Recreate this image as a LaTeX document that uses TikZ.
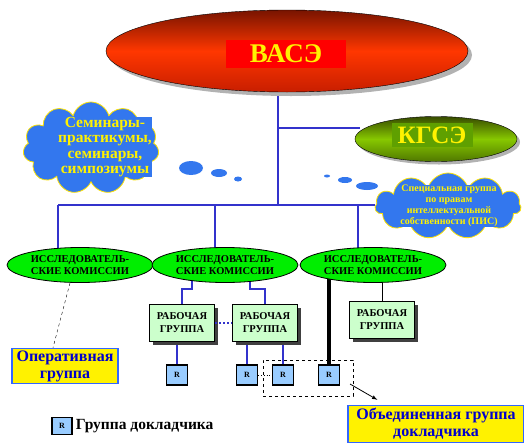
\documentclass[tikz,border=0pt]{standalone}
\usepackage{fontspec}
\setmainfont{Liberation Serif}
\usetikzlibrary{shapes.geometric}
\usetikzlibrary{shapes.symbols}
\usetikzlibrary{shadows}
\usetikzlibrary{arrows}
\usetikzlibrary{positioning}
\usetikzlibrary{backgrounds}
\definecolor{vasetop}{RGB}{120,20,0}
\definecolor{vasemid}{RGB}{255,55,0}
\definecolor{vasebot}{RGB}{200,30,0}
\definecolor{kgsetop}{RGB}{55,75,0}
\definecolor{kgsemid}{RGB}{135,200,0}
\definecolor{kgsebot}{RGB}{80,120,0}
\definecolor{kgsebox}{RGB}{95,160,0}
\definecolor{cloudblue}{RGB}{51,119,238}
\definecolor{komgreen}{RGB}{0,238,0}
\definecolor{wggreen}{RGB}{204,255,204}
\definecolor{rblue}{RGB}{153,204,255}
\definecolor{boxblue}{RGB}{51,102,255}
\definecolor{textblue}{RGB}{0,0,204}
\definecolor{lineblue}{RGB}{51,51,204}
\begin{document}
\begin{tikzpicture}[x=1pt,y=-1pt,font=\bfseries,every node/.style={align=center,inner sep=0pt},
  komissia/.style={ellipse,draw,thick,fill=komgreen,minimum width=146pt,minimum height=35pt,font=\fontsize{10.5}{11.5}\selectfont\bfseries},
  rabgr/.style={rectangle,draw,line width=1.5pt,fill=wggreen,minimum width=65pt,minimum height=37pt,drop shadow={shadow xshift=3pt,shadow yshift=-3pt,fill=black!75,opacity=1},font=\fontsize{10.5}{13}\selectfont\bfseries},
  dokl/.style={rectangle,draw,line width=1.5pt,fill=rblue,minimum width=21pt,minimum height=20pt,font=\fontsize{8}{8}\selectfont\bfseries},
  zheltbox/.style={rectangle,draw=boxblue,line width=1.5pt,fill=yellow,text=textblue,font=\fontsize{16}{17}\selectfont\bfseries},
  oblako/.style={cloud,cloud puffs=11,aspect=1.6,draw=yellow!85!orange,thick,fill=cloudblue},
  puzyr/.style={ellipse,fill=cloudblue},
  liniya/.style={lineblue,line width=1.2pt},
  wgliniya/.style={lineblue,line width=2pt}]
  \useasboundingbox (0,0) rectangle (524,442);

  \node (vase) at (287,51) [ellipse,draw,minimum width=362pt,minimum height=82pt,top color=vasetop,bottom color=vasebot,middle color=vasemid,drop shadow={shadow xshift=4pt,shadow yshift=-4pt,fill=gray!60,opacity=1}]{};
  \node (vasel) at (286,54) [fill=red,minimum width=120pt,minimum height=28pt,text=yellow,font=\fontsize{27}{27}\selectfont\bfseries]{ВАСЭ};
  \node (kgse) at (436,139) [ellipse,draw,minimum width=162pt,minimum height=45pt,top color=kgsetop,bottom color=kgsebot,middle color=kgsemid,drop shadow={shadow xshift=3pt,shadow yshift=-3pt,fill=gray!60,opacity=1}]{};
  \node (kgsel) at (432,135) [fill=kgsebox,minimum width=81pt,minimum height=24pt,text=yellow,font=\fontsize{25}{25}\selectfont\bfseries]{КГСЭ};

  \node (lc) at (91,148) [oblako,minimum width=136pt,minimum height=92pt]{};
  \node (lct) at (105,147) [fill=cloudblue,text=yellow,font=\fontsize{15.5}{15.5}\selectfont\bfseries]{Семинары-\\практикумы,\\семинары,\\симпозиумы};
  \node (b1) at (191,168) [puzyr,minimum width=24pt,minimum height=14pt]{};
  \node (b2) at (219,173) [puzyr,minimum width=16pt,minimum height=8pt]{};
  \node (b3) at (238,179) [puzyr,minimum width=8pt,minimum height=5pt]{};

  \node (rc) at (448,206) [oblako,minimum width=146pt,minimum height=66pt]{};
  \node (rct) at (449,206) [fill=cloudblue,text=yellow,font=\fontsize{10}{11}\selectfont\bfseries]{Специальная группа\\по правам\\интеллектуальной\\собственности (ПИС)};
  \node (b4) at (327,176) [puzyr,minimum width=6pt,minimum height=3pt]{};
  \node (b5) at (345,180) [puzyr,minimum width=14pt,minimum height=6pt]{};
  \node (b6) at (367,186) [puzyr,minimum width=22pt,minimum height=8pt]{};

  \node (ik1) at (80,265) [komissia]{ИССЛЕДОВАТЕЛЬ-\\СКИЕ КОМИССИИ};
  \node (ik2) at (225,265) [komissia]{ИССЛЕДОВАТЕЛЬ-\\СКИЕ КОМИССИИ};
  \node (ik3) at (373,265) [komissia]{ИССЛЕДОВАТЕЛЬ-\\СКИЕ КОМИССИИ};

  \node (wg1) at (182,323) [rabgr]{РАБОЧАЯ\\ГРУППА};
  \node (wg2) at (265,323) [rabgr]{РАБОЧАЯ\\ГРУППА};
  \node (wg3) at (382,320) [rabgr]{РАБОЧАЯ\\ГРУППА};

  \node (r1) at (177,375) [dokl]{R};
  \node (r2) at (247,375) [dokl]{R};
  \node (r3) at (283,375) [dokl]{R};
  \node (r4) at (329,375) [dokl]{R};

  \node (op) at (65,366) [zheltbox,minimum width=106pt,minimum height=35pt]{Оперативная\\группа};
  \node (ogr) at (308,378) [draw,dashed,minimum width=90pt,minimum height=36pt]{};
  \node (obg) at (436,424) [zheltbox,minimum width=176pt,minimum height=37pt]{Объединенная группа\\докладчика};

  \node (lr) at (62,426) [dokl,minimum width=20pt,minimum height=17pt]{R};
  \node (lrt) [right=3pt of lr,font=\fontsize{15.5}{15.5}\selectfont\bfseries]{Группа докладчика};

  \coordinate (j) at (278,205);
  \coordinate (jl) at (58,205);
  \coordinate (j2) at (215,205);
  \coordinate (j3) at (358,205);
  \coordinate (kb) at (360,128);
  \coordinate (a1) at (350,384);

  \begin{scope}[on background layer]
    \draw[liniya](j)--(j |- vase.center);
    \draw[liniya](j |- kb)--(kb);
    \draw[liniya](jl)--(rc.west |- j);
    \draw[liniya](jl)--(jl |- ik1.center);
    \draw[liniya](j2)--(j2 |- ik2.center);
    \draw[liniya](j3)--(j3 |- ik3.center);
    \draw[wgliniya](wg1.north)--++(0,-15) -| ([xshift=-33pt]ik2.center);
    \draw[wgliniya](wg2.north)--++(0,-15) -| ([xshift=25pt]ik2.center);
    \draw[wgliniya](r1.north)--(r1.north |- wg1.center);
    \draw[wgliniya](r2.north)--(r2.north |- wg2.center);
    \draw[wgliniya](r3.north)--(r3.north |- wg2.center);
    \draw[thin](wg3.north)--(wg3.north |- ik3.center);
    \draw[line width=3.5pt](r4.north)--(r4.north |- ik3.center);
  \end{scope}
  \draw[wgliniya,dotted](wg1.east)--(wg2.west);
  \draw[thick,dotted](r2.east)--(r3.west);
  \draw[thin,dashed]([xshift=-10pt]ik1.south)--([xshift=-12pt]op.north);
  \draw[thick,-latex](a1)--([xshift=30pt,yshift=5pt]obg.north west);
\end{tikzpicture}
\end{document}
